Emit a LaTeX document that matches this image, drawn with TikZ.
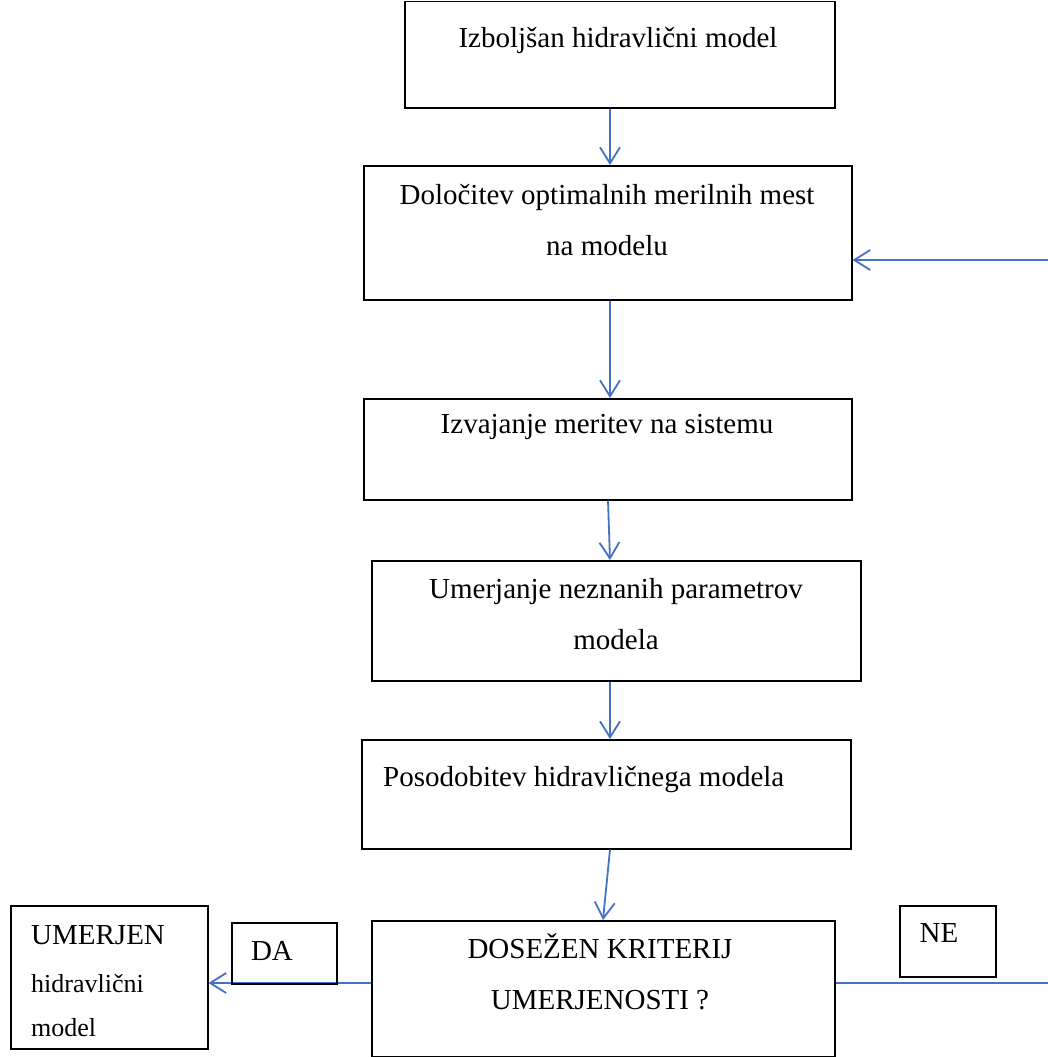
\documentclass[tikz,border=0pt]{standalone}
\usepackage{fontspec}
\setmainfont{Liberation Serif}
\usetikzlibrary{arrows.meta, positioning, calc}

\definecolor{flowblue}{RGB}{68,114,196}

\begin{document}
\begin{tikzpicture}[
  x=1pt, y=-1pt,
  >={Straight Barb[length=16pt,width=20pt]},
  box/.style  = {draw, line width=1.5pt, rectangle, anchor=north west, inner sep=0pt},
  txt/.style  = {font=\fontsize{29}{51}\selectfont, align=center, inner sep=0pt},
  flow/.style = {draw=flowblue, line width=1.8pt},
]
  \useasboundingbox (0,0) rectangle (1048,1057);

  % main chain of boxes, placed at their top-left corners
  \node[box, minimum width=430pt, minimum height=106pt] (bIzb) at (404,1)   {};
  \node[box, minimum width=488pt, minimum height=134pt] (bDol) at (363,165) {};
  \node[box, minimum width=488pt, minimum height=101pt] (bIzv) at (363,398) {};
  \node[box, minimum width=489pt, minimum height=120pt] (bUme) at (371,560) {};
  \node[box, minimum width=489pt, minimum height=109pt] (bPos) at (361,739) {};
  \node[box, minimum width=463pt, minimum height=136pt] (bDos) at (371,920) {};
  \node[box, minimum width=197pt, minimum height=143pt] (bUmj) at (10,905)  {};

  % texts sit near the top of each box
  \node[txt] (tIzb) at (618,40)  {Izboljšan hidravlični model};
  \node[txt] (tDol) at (607,220) {Določitev optimalnih merilnih mest\\na modelu};
  \node[txt] (tIzv) at (607,427) {Izvajanje meritev na sistemu};
  \node[txt] (tUme) at (616,614) {Umerjanje neznanih parametrov\\modela};
  \node[txt, anchor=west] (tPos) at (383,780) {Posodobitev hidravličnega modela};
  \node[txt] (tDos) at (600,972) {DOSEŽEN KRITERIJ\\UMERJENOSTI ?};
  \node[txt, anchor=north west, align=left] (tUmj) at (31,925)
    {UMERJEN\\[-3pt]{\fontsize{26}{51}\selectfont hidravlični}\\[-7pt]{\fontsize{26}{51}\selectfont model}};

  % loose ends at the right margin
  \coordinate (fbtop) at (1048,260);
  \coordinate (fbbot) at (1048,983);

  \draw[flow,->] (610,0 |- bIzb.south) -- (610,0 |- bDol.north);
  \draw[flow,->] (610,0 |- bDol.south) -- (610,0 |- bIzv.north);
  \draw[flow,->] (608,0 |- bIzv.south) -- (610,0 |- bUme.north);
  \draw[flow,->] (610,0 |- bUme.south) -- (610,0 |- bPos.north);
  \draw[flow,->] (610,0 |- bPos.south) -- (603,0 |- bDos.north);

  \draw[flow,->] (bDos.west |- fbbot) -- (bUmj.east |- fbbot);
  \draw[flow]    (bDos.east |- fbbot) -- (fbbot);
  \draw[flow,->] (fbtop) -- (bDol.east |- fbtop);

  % answer boxes over the lines
  \node[box, minimum width=105pt, minimum height=61pt] (bDA) at (231,922) {};
  \node[box, minimum width=96pt,  minimum height=71pt] (bNE) at (899,905) {};
  \node[txt] (tDA) at (272,951) {DA};
  \node[txt] (tNE) at (939,933) {NE};
\end{tikzpicture}
\end{document}
